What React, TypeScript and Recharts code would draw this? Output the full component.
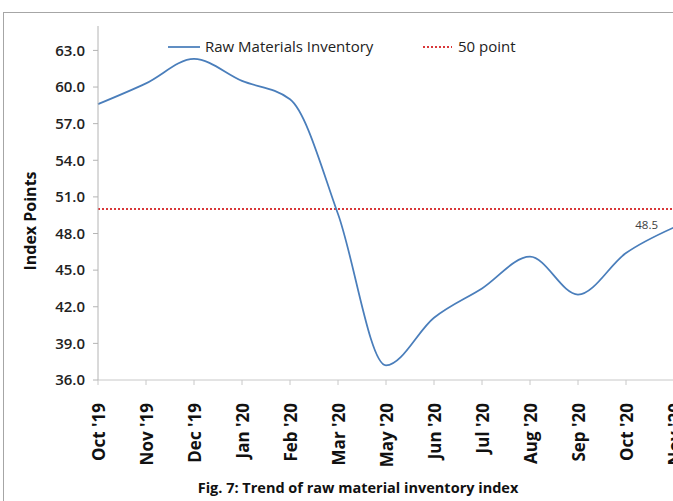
import { Line, LineChart, ReferenceLine, XAxis, YAxis } from "recharts"

const months = [
  "Oct '19", "Nov '19", "Dec '19", "Jan '20", "Feb '20", "Mar '20",
  "May '20", "Jun '20", "Jul '20", "Aug '20", "Sep '20", "Oct '20", "Nov '20",
]
const inventory = [58.6, 60.3, 62.3, 60.5, 59.0, 49.6, 37.2, 41.1, 43.5, 46.1, 43.0, 46.4, 48.5]
const yTicks = [36, 39, 42, 45, 48, 51, 54, 57, 60, 63]
const threshold = 50

const data = months.map((month, i) => ({ month, inventory: inventory[i] }))

const FONT = "'Open Sans', 'Noto Sans', sans-serif"
const BLUE = "#4a7ebb"
const RED = "#d9383a"

const MonthTick = (props: any) => {
  const { x, y, payload } = props
  return (
    <text
      transform={`translate(${x},${y + 16}) rotate(-90)`}
      textAnchor="end"
      dominantBaseline="central"
      fontFamily={FONT}
      fontWeight={700}
      fontSize={17}
      fill="#111"
    >
      {payload.value}
    </text>
  )
}

const lastLabel = (props: any) => {
  const { x, y, value, index } = props
  if (index !== inventory.length - 1) return null
  return (
    <text x={x - 16} y={y + 2} textAnchor="end" fontFamily={FONT} fontSize={11.5} fill="#404040">
      {Number(value).toFixed(1)}
    </text>
  )
}

export default function App() {
  return (
    <div style={{ position: "absolute", left: 0, top: 0, width: 673, height: 501, overflow: "hidden", background: "#fff" }}>
      <div style={{ position: "absolute", left: 3, top: 12, width: 720, height: 540, border: "1px solid #a6a6a6" }} />
      <div style={{ position: "absolute", left: 0, top: 0 }}>
        <LineChart width={700} height={501} data={data} margin={{ top: 26, right: 26, bottom: 0, left: 0 }}>
          <XAxis
            dataKey="month"
            interval={0}
            tick={<MonthTick />}
            tickSize={5}
            stroke="#c8c8c8"
            height={121}
          />
          <YAxis
            domain={[36, 65]}
            ticks={yTicks}
            width={98}
            tickSize={5}
            tickMargin={8}
            stroke="#b4b4b4"
            tick={{ fill: "#222", fontFamily: FONT, fontWeight: 600, fontSize: 15 }}
            tickFormatter={(v: number) => v.toFixed(1)}
          />
          <ReferenceLine y={threshold} stroke={RED} strokeWidth={2} strokeDasharray="2 2" />
          <Line
            type="monotone"
            dataKey="inventory"
            stroke={BLUE}
            strokeWidth={1.75}
            dot={false}
            isAnimationActive={false}
            label={lastLabel}
          />
        </LineChart>
      </div>
      <svg width={673} height={501} style={{ position: "absolute", left: 0, top: 0, pointerEvents: "none" }}>
        <text
          transform="translate(30,221) rotate(-90)"
          textAnchor="middle"
          dominantBaseline="central"
          fontFamily={FONT}
          fontWeight={700}
          fontSize={16}
          fill="#111"
        >
          Index Points
        </text>
        <line x1={168} x2={200} y1={47} y2={47} stroke={BLUE} strokeWidth={1.75} />
        <text x={205} y={52} fontFamily={FONT} fontSize={15} fill="#222">Raw Materials Inventory</text>
        <line x1={423} x2={452} y1={47} y2={47} stroke={RED} strokeWidth={2} strokeDasharray="2 2" />
        <text x={458} y={52} fontFamily={FONT} fontSize={15} fill="#222">{threshold} point</text>
        <text x={358} y={493} textAnchor="middle" fontFamily={FONT} fontWeight={700} fontSize={14.5} fill="#111">
          Fig. 7: Trend of raw material inventory index
        </text>
      </svg>
    </div>
  )
}
